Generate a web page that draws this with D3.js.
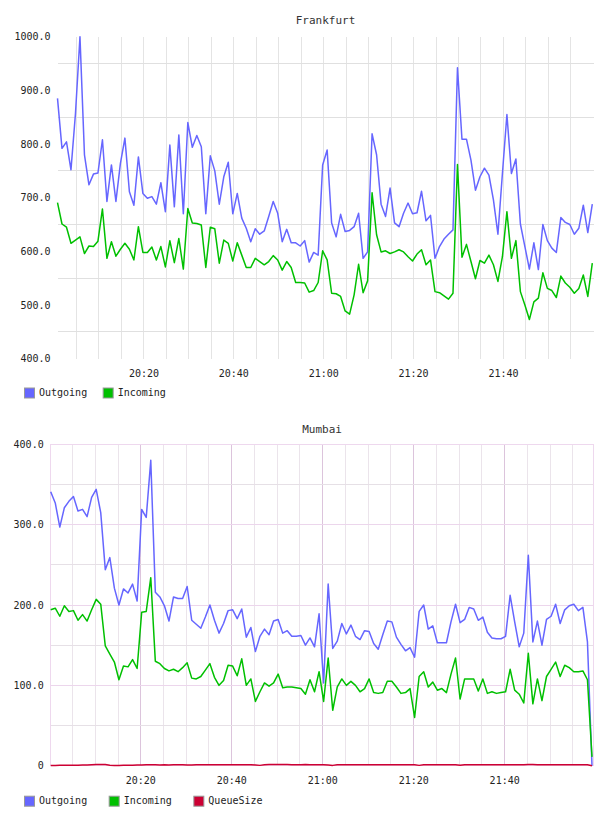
<!DOCTYPE html>
<html>
<head>
<meta charset="utf-8">
<script src="https://cdn.jsdelivr.net/npm/d3@7"></script>
<style>
body { margin: 0; background: #fff; }
svg { display: block; }
text { font-family: "DejaVu Sans Mono", monospace; }
</style>
</head>
<body>
<svg width="608" height="816"></svg>
<script>
// Frankfurt, one sample per minute starting 20:00:46
const frankfurtStart = new Date(2024, 0, 1, 20, 0, 46);
const frankfurtOutgoing = [
  885, 792, 804, 752, 857, 1000, 780, 724, 744, 746,
  808, 693, 761, 693, 764, 811, 711, 686, 776, 708,
  699, 702, 688, 728, 674, 798, 683, 817, 670, 840,
  794, 816, 795, 670, 778, 750, 688, 739, 766, 670,
  708, 662, 643, 618, 642, 632, 638, 665, 693, 671,
  618, 641, 616, 616, 610, 620, 580, 598, 593, 761,
  789, 653, 627, 669, 637, 639, 646, 671, 587, 599,
  819, 780, 688, 665, 718, 653, 646, 671, 690, 670,
  672, 712, 657, 667, 587, 609, 623, 632, 640, 942,
  809, 809, 770, 714, 739, 755, 742, 696, 632, 745,
  855, 745, 772, 651, 609, 567, 616, 566, 650, 620,
  606, 598, 663, 654, 650, 632, 643, 686, 635, 688
];
const frankfurtIncoming = [
  691, 651, 645, 615, 621, 627, 596, 610, 609, 619,
  679, 587, 618, 591, 604, 615, 604, 584, 646, 598,
  598, 608, 584, 609, 571, 620, 579, 624, 567, 680,
  653, 652, 649, 570, 645, 642, 578, 621, 615, 582,
  616, 593, 570, 570, 587, 581, 575, 581, 592, 584,
  565, 581, 570, 542, 542, 541, 524, 527, 542, 601,
  584, 522, 521, 516, 489, 483, 519, 576, 523, 545,
  709, 631, 599, 601, 596, 599, 603, 599, 590, 582,
  595, 603, 575, 584, 525, 523, 517, 511, 522, 762,
  589, 613, 581, 549, 583, 578, 593, 575, 544, 590,
  674, 587, 620, 525, 500, 473, 506, 513, 560, 531,
  527, 514, 554, 541, 533, 522, 531, 556, 516, 578
];
const frankfurtTicks = [400, 500, 600, 700, 800, 900, 1000];
const frankfurtGrid = [450, 550, 650, 750, 850, 950];

// Mumbai, one sample per minute starting 20:00:12
const mumbaiStart = new Date(2024, 0, 1, 20, 0, 12);
const mumbaiOutgoing = [
  341, 327, 297, 321, 329, 335, 317, 319, 310, 334,
  344, 315, 244, 259, 221, 200, 220, 215, 226, 205,
  319, 309, 380, 216, 210, 199, 180, 210, 208, 208,
  223, 181, 176, 171, 185, 200, 181, 165, 177, 193,
  194, 183, 195, 160, 172, 142, 161, 170, 163, 180,
  182, 165, 168, 161, 161, 162, 150, 159, 148, 189,
  103, 226, 146, 155, 177, 164, 175, 161, 157, 168,
  167, 152, 145, 163, 180, 179, 160, 151, 143, 147,
  135, 192, 200, 170, 174, 153, 153, 153, 179, 201,
  178, 182, 197, 195, 181, 185, 166, 159, 158, 158,
  161, 212, 179, 148, 165, 262, 154, 180, 150, 182,
  186, 201, 177, 194, 199, 201, 193, 197, 154, 0
];
const mumbaiIncoming = [
  194, 196, 186, 199, 192, 193, 181, 188, 180, 194,
  207, 201, 149, 139, 129, 107, 124, 123, 132, 121,
  191, 192, 234, 130, 127, 121, 118, 120, 117, 122,
  128, 109, 108, 111, 119, 127, 110, 100, 106, 125,
  124, 112, 133, 100, 108, 80, 92, 103, 99, 103,
  114, 97, 98, 98, 97, 96, 89, 107, 92, 117,
  80, 134, 69, 98, 108, 100, 105, 100, 92, 96,
  108, 91, 90, 91, 105, 105, 98, 90, 91, 96,
  60, 111, 117, 98, 104, 94, 96, 91, 114, 134,
  83, 108, 108, 108, 93, 108, 90, 92, 90, 91,
  92, 120, 94, 89, 78, 140, 77, 108, 81, 111,
  120, 129, 111, 125, 122, 117, 117, 118, 107, 11
];
const mumbaiQueueSize = [
  0.3, 0.4, 0.5, 0.5, 0.6, 0.6, 0.7, 0.9, 1.0, 1.2,
  1.5, 1.6, 1.4, 0.6, 0.4, 0.4, 0.5, 0.5, 0.6, 0.8,
  1.0, 1.1, 1.1, 1.1, 1.0, 1.1, 1.0, 1.2, 1.2, 1.1,
  1.0, 1.0, 1.2, 1.2, 1.1, 1.2, 1.3, 1.2, 1.1, 1.2,
  1.2, 1.2, 1.2, 1.1, 1.2, 1.0, 0.4, 1.2, 1.4, 1.4,
  1.4, 1.4, 1.4, 1.3, 1.3, 1.3, 1.4, 1.3, 1.2, 1.2,
  1.3, 0.9, 0.4, 1.3, 1.3, 1.2, 1.2, 1.2, 1.3, 1.2,
  1.2, 1.2, 1.2, 1.2, 1.3, 1.2, 1.2, 1.2, 1.2, 1.3,
  1.1, 0.4, 1.2, 1.2, 1.2, 1.3, 1.2, 1.2, 1.2, 1.1,
  0.5, 1.2, 1.2, 1.2, 1.2, 1.1, 1.2, 1.3, 1.2, 1.2,
  1.2, 1.2, 1.2, 1.3, 1.3, 1.4, 1.4, 1.3, 1.3, 1.2,
  1.2, 1.2, 1.3, 1.3, 1.2, 1.2, 1.2, 1.2, 1.1, 0
];
const mumbaiTicks = [0, 100, 200, 300, 400];
const mumbaiGrid = [50, 100, 150, 200, 250, 300, 350];

const colors = { Outgoing: "#6666ff", Incoming: "#00c000", QueueSize: "#cc0033" };

const svg = d3.select("svg");

function drawChart(cfg) {
    const g = svg.append("g");
    const box = cfg.box;
    const n = cfg.series[0].values.length;
    const times = d3.range(n).map(i => d3.timeMinute.offset(cfg.start, i));

    const x = d3.scaleTime().domain([times[0], times[n - 1]]).range([box.left, box.right]);
    const y = d3.scaleLinear().domain(cfg.yDomain).range([box.bottom, box.top]);

    // grid
    const grid = g.append("g").attr("shape-rendering", "crispEdges");
    grid.selectAll(".vgrid")
        .data(x.ticks(d3.timeMinute.every(5)))
        .join("line")
        .attr("x1", d => x(d)).attr("x2", d => x(d))
        .attr("y1", box.top).attr("y2", box.bottom)
        .attr("stroke", d => d.getMinutes() % 20 === 0 ? cfg.grid.majorV : cfg.grid.minorV);

    grid.selectAll(".hgrid")
        .data(cfg.gridValues)
        .join("line")
        .attr("x1", box.left).attr("x2", box.gridRight)
        .attr("y1", d => y(d)).attr("y2", d => y(d))
        .attr("stroke", d => cfg.yTicks.includes(d) ? cfg.grid.majorH : cfg.grid.minorH);

    if (cfg.grid.border) {
        grid.append("rect")
            .attr("x", box.left).attr("y", box.top)
            .attr("width", box.gridRight - box.left)
            .attr("height", box.bottom - box.top)
            .attr("fill", "none")
            .attr("stroke", cfg.grid.border)
            .attr("stroke-width", 1.5);
    }

    // y labels
    g.selectAll(".ylab")
        .data(cfg.yTicks)
        .join("text")
        .attr("x", box.left - 7)
        .attr("y", d => y(d))
        .attr("dy", "0.35em")
        .attr("text-anchor", "end")
        .attr("font-size", 10)
        .attr("fill", "#222")
        .text(d => d === 0 ? "0" : d3.format(".1f")(d));

    // x labels
    g.selectAll(".xlab")
        .data(x.ticks(d3.timeMinute.every(20)))
        .join("text")
        .attr("x", d => x(d))
        .attr("y", box.bottom + 15)
        .attr("dy", "0.35em")
        .attr("text-anchor", "middle")
        .attr("font-size", 10)
        .attr("fill", "#222")
        .text(d3.timeFormat("%H:%M"));

    // title
    g.append("text")
        .attr("x", (box.left + box.gridRight) / 2)
        .attr("y", cfg.titleY)
        .attr("dy", "0.35em")
        .attr("text-anchor", "middle")
        .attr("font-size", 11)
        .attr("fill", "#333")
        .text(cfg.title);

    // series
    const line = d3.line()
        .x((d, i) => x(times[i]))
        .y(d => y(d));

    g.selectAll(".series")
        .data(cfg.series)
        .join("path")
        .attr("d", d => line(d.values))
        .attr("fill", "none")
        .attr("stroke", d => colors[d.name])
        .attr("stroke-width", 1.5)
        .attr("stroke-linejoin", "round");

    // legend
    let lx = 24;
    cfg.series.forEach(s => {
        g.append("rect")
            .attr("x", lx + 0.5).attr("y", cfg.legendY - 5 + 0.5)
            .attr("width", 10).attr("height", 10)
            .attr("fill", colors[s.name])
            .attr("stroke", "#999");
        const t = g.append("text")
            .attr("x", lx + 15)
            .attr("y", cfg.legendY)
            .attr("dy", "0.35em")
            .attr("font-size", 10)
            .attr("fill", "#222")
            .text(s.name);
        lx = lx + 15 + t.node().getComputedTextLength() + cfg.legendGap;
    });
}

drawChart({
    title: "Frankfurt",
    titleY: 20,
    start: frankfurtStart,
    yDomain: [400, 1000],
    yTicks: frankfurtTicks,
    gridValues: frankfurtGrid,
    box: { left: 57.5, right: 592.3, gridRight: 593.5, top: 36.7, bottom: 358.7 },
    grid: { majorV: "#e4e4e4", minorV: "#e4e4e4", majorH: "#e0e0e0", minorH: "#e0e0e0", border: null },
    series: [
        { name: "Outgoing", values: frankfurtOutgoing },
        { name: "Incoming", values: frankfurtIncoming }
    ],
    legendY: 392.5,
    legendGap: 15.5
});

drawChart({
    title: "Mumbai",
    titleY: 429,
    start: mumbaiStart,
    yDomain: [0, 400],
    yTicks: mumbaiTicks,
    gridValues: mumbaiGrid,
    box: { left: 50.7, right: 592, gridRight: 593.5, top: 444.3, bottom: 765.7 },
    grid: { majorV: "#dcc4dc", minorV: "#ebe4eb", majorH: "#ecd6ec", minorH: "#e6e0e6", border: "#eed8ee" },
    series: [
        { name: "Outgoing", values: mumbaiOutgoing },
        { name: "Incoming", values: mumbaiIncoming },
        { name: "QueueSize", values: mumbaiQueueSize }
    ],
    legendY: 800.7,
    legendGap: 21.5
});
</script>
</body>
</html>
